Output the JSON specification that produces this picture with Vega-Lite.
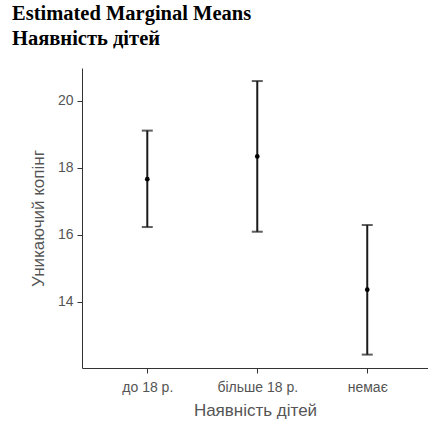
{
  "$schema": "https://vega.github.io/schema/vega-lite/v6.json",
  "autosize": "none",
  "width": 346,
  "height": 300,
  "padding": {"left": 82, "top": 68, "right": 0, "bottom": 53},
  "background": "white",
  "title": {
    "text": ["Estimated Marginal Means", "Наявність дітей"],
    "anchor": "start",
    "frame": "group",
    "dx": -70,
    "font": "Liberation Serif",
    "fontSize": 20.5,
    "fontWeight": "bold",
    "color": "#000000",
    "lineHeight": 25,
    "offset": 19
  },
  "data": {
    "values": [
      {"group": "до 18 р.", "emmean": 17.66, "lower": 16.23, "upper": 19.11},
      {"group": "більше 18 р.", "emmean": 18.34, "lower": 16.09, "upper": 20.59},
      {"group": "немає", "emmean": 14.36, "lower": 12.42, "upper": 16.29}
    ]
  },
  "encoding": {
    "x": {
      "field": "group",
      "type": "nominal",
      "sort": ["до 18 р.", "більше 18 р.", "немає"],
      "scale": {"type": "point", "padding": 0.573, "align": 0.518},
      "axis": {
        "title": "Наявність дітей",
        "labelAngle": 0,
        "labelFont": "Liberation Sans",
        "labelFontSize": 14,
        "labelColor": "#555555",
        "labelPadding": 7,
        "titleFont": "Liberation Sans",
        "titleFontSize": 17,
        "titleFontWeight": "normal",
        "titleColor": "#555555",
        "titlePadding": 8,
        "domainColor": "#333333",
        "domainWidth": 1,
        "tickColor": "#333333",
        "tickSize": 5,
        "tickWidth": 1,
        "grid": false
      }
    }
  },
  "layer": [
    {
      "mark": {"type": "rule", "color": "#1a1a1a", "strokeWidth": 2},
      "encoding": {
        "y": {
          "field": "lower",
          "type": "quantitative",
          "scale": {"domain": [12.02, 20.98], "nice": false, "zero": false},
          "axis": {
            "title": "Уникаючий копінг",
            "values": [14, 16, 18, 20],
            "labelFont": "Liberation Sans",
            "labelFontSize": 14,
            "labelColor": "#555555",
            "labelPadding": 4,
            "titleFont": "Liberation Sans",
            "titleFontSize": 17,
            "titleFontWeight": "normal",
            "titleColor": "#555555",
            "titlePadding": 10,
            "domainColor": "#333333",
            "domainWidth": 1,
            "tickColor": "#333333",
            "tickSize": 5,
            "tickWidth": 1,
            "grid": false
          }
        },
        "y2": {"field": "upper"}
      }
    },
    {
      "mark": {"type": "tick", "color": "#1a1a1a", "size": 11, "thickness": 2, "orient": "horizontal"},
      "encoding": {"y": {"field": "lower", "type": "quantitative"}}
    },
    {
      "mark": {"type": "tick", "color": "#1a1a1a", "size": 11, "thickness": 2, "orient": "horizontal"},
      "encoding": {"y": {"field": "upper", "type": "quantitative"}}
    },
    {
      "mark": {"type": "point", "filled": true, "color": "#000000", "size": 22, "opacity": 1},
      "encoding": {"y": {"field": "emmean", "type": "quantitative"}}
    }
  ],
  "config": {"view": {"stroke": null}}
}
